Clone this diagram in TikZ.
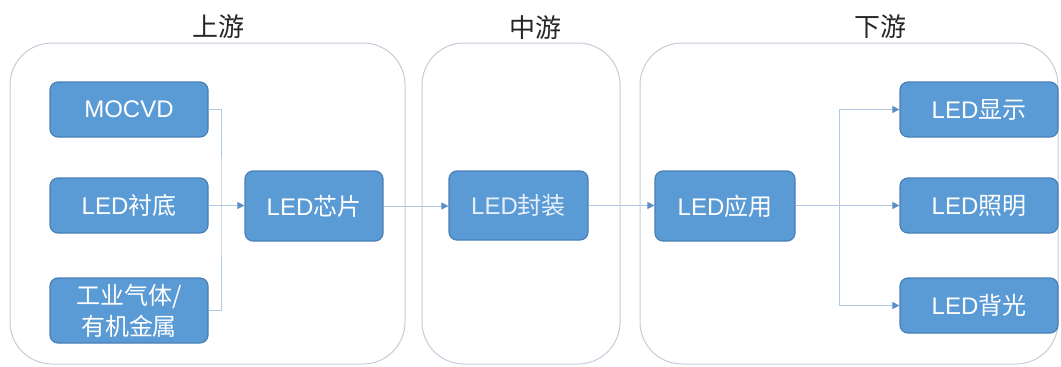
\documentclass[tikz,border=0pt]{standalone}
\usepackage{fontspec}
\setmainfont{Liberation Sans}
\newfontfamily\cjk{Noto Sans CJK SC}
\usetikzlibrary{arrows.meta}
\definecolor{boxfill}{HTML}{5B9BD5}
\definecolor{boxline}{HTML}{4A7FB5}
\definecolor{grpline}{HTML}{C3CDD8}
\definecolor{connline}{HTML}{B0C8E0}
\definecolor{tipcol}{HTML}{5B8FC8}
\tikzset{
  blk/.style={draw=boxline, line width=1.2pt, fill=boxfill, rounded corners=8pt,
    text=white, font=\fontsize{24}{31}\selectfont, align=center, inner sep=0pt},
  grp/.style={draw=grpline, line width=1pt, rounded corners=42pt},
  hdr/.style={font=\cjk\fontsize{26}{30}\selectfont, text=black!85},
  conn/.style={draw=connline, line width=1pt},
  arr/.style={conn, -{Triangle[length=7pt,width=7pt,color=tipcol]}}
}
\begin{document}
\begin{tikzpicture}[x=1pt,y=-1pt]
\useasboundingbox (0,0) rectangle (1061,367);
% group frames
\draw[grp] (10,43) rectangle (405,364);
\draw[grp] (422,43) rectangle (620,364);
\draw[grp] (640,43) rectangle (1058,364);
\node[hdr] (h1) at (218,27) {上游};
\node[hdr] (h2) at (535,28) {中游};
\node[hdr] (h3) at (880,27) {下游};
% blocks
\node[blk, minimum width=158pt, minimum height=55pt] (moc) at (129,109.5) {MOCVD};
\node[blk, minimum width=158pt, minimum height=55pt] (sub) at (129,205.5) {LED{\cjk 衬底}};
\node[blk, minimum width=158pt, minimum height=65pt] (gas) at (129,310.5) {{\cjk 工业气体/}\\{\cjk 有机金属}};
\node[blk, minimum width=138pt, minimum height=70pt] (chip) at (314,206) {LED{\cjk 芯片}};
\node[blk, minimum width=139pt, minimum height=69pt, text=white!85!boxfill] (pkg) at (518.5,205.5) {LED{\cjk 封装}};
\node[blk, minimum width=140pt, minimum height=70pt] (app) at (725,206) {LED{\cjk 应用}};
\node[blk, minimum width=158pt, minimum height=55pt] (disp) at (979,109.5) {LED{\cjk 显示}};
\node[blk, minimum width=158pt, minimum height=55pt] (light) at (979,205.5) {LED{\cjk 照明}};
\node[blk, minimum width=158pt, minimum height=55pt] (back) at (979,305.5) {LED{\cjk 背光}};
% connectors
\coordinate (j) at (221,205.5);
\coordinate (k) at (839,205.5);
\draw[conn] (moc.east) -| (j) |- (gas.east);
\draw[arr] (sub.east) -- (chip.west |- sub.east);
\draw[arr] (chip.east) -- (pkg.west |- chip.east);
\draw[arr] (pkg.east) -- (app.west |- pkg.east);
\draw[arr] (app.east |- light.west) -- (light.west);
\draw[arr] (k) |- (disp.west);
\draw[arr] (k) |- (back.west);
\end{tikzpicture}
\end{document}
